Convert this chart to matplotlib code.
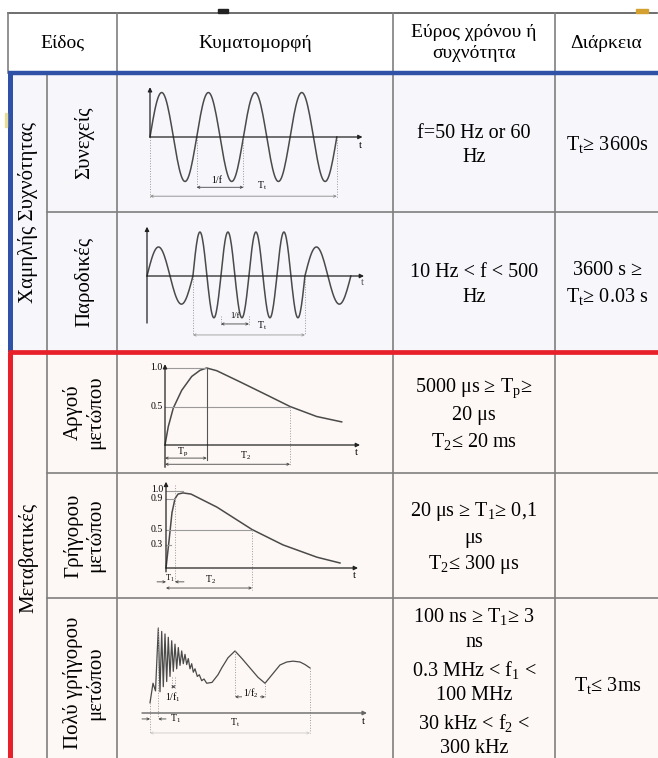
import numpy as np
import matplotlib
matplotlib.use('Agg')
import matplotlib.pyplot as plt
from matplotlib.patches import Rectangle

plt.rcParams['font.family'] = ['Liberation Serif', 'DejaVu Serif']
plt.rcParams['mathtext.fontset'] = 'custom'
plt.rcParams['mathtext.rm'] = 'Liberation Serif'
plt.rcParams['mathtext.it'] = 'Liberation Serif:italic'

W, H = 658, 758

# ---- table text ----
header_labels = ['Είδος', 'Κυματομορφή', 'Εύρος χρόνου ή\nσυχνότητα', 'Διάρκεια']
group_labels = ['Χαμηλής Συχνότητας', 'Μεταβατικές']
subtype_labels = ['Συνεχείς', 'Παροδικές', 'Αργού\nμετώπου', 'Γρήγορου\nμετώπου',
                  'Πολύ γρήγορου\nμετώπου']
range_texts = [
    ['f=50 Hz or 60\nHz'],
    ['10 Hz < f < 500\nHz'],
    ['5000 μs ≥ T$_\\mathrm{p}$≥\n20 μs', 'T$_2$≤ 20 ms'],
    ['20 μs ≥ T$_1$≥ 0,1\nμs', 'T$_2$≤ 300 μs'],
    ['100 ns ≥ T$_1$≥ 3\nns', '0.3 MHz < f$_1$ <\n100 MHz', '30 kHz < f$_2$ <\n300 kHz'],
]
duration_texts = ['T$_\\mathrm{t}$≥ 3600s', '3600 s ≥\nT$_\\mathrm{t}$≥ 0.03 s', '', '',
                  'T$_\\mathrm{t}$≤ 3ms']

# ---- waveform data (read from the sketches) ----
# continuous: time unit = one period 1/f
cont_half_dur = [0.5] * 8
cont_peaks = [1.0, -1.0] * 4
# temporary: time unit = one period of the fast part
paro_half_dur = [0.82, 0.82] + [0.5] * 8 + [0.82, 0.82]
paro_peaks = [0.66, -0.64] + [1.0, -0.95] * 4 + [0.66, -0.64]
# slow front impulse (per unit)
slow_t = [0, 0.33, 0.83, 1.67, 2.67, 3.5, 4.17, 5.17, 7.5, 10.17, 12.5, 15.17, 17.67]
slow_v = [0, 0.24, 0.48, 0.71, 0.89, 0.97, 1.0, 0.965, 0.82, 0.65, 0.5, 0.37, 0.30]
slow_tp, slow_t2 = 4.17, 12.5
# fast front impulse
fast_t = [0, 0.3, 0.6, 0.9, 1.2, 1.7, 2.5, 5.1, 8.6, 11.7, 15.1, 17.4]
fast_v = [0, 0.35, 0.72, 0.9, 0.96, 0.975, 0.96, 0.79, 0.5, 0.30, 0.14, 0.065]
fast_t1, fast_t2 = 0.9, 8.6
# very fast front: ringing then slow oscillation
vfast_t = [0, 0.3, 0.55, 0.83, 1.0, 1.17, 1.33, 1.5, 1.67, 1.83, 2.0, 2.17, 2.33, 2.5,
           2.67, 2.83, 3.0, 3.17, 3.33, 3.5, 3.67, 3.83, 4.0, 4.17, 4.33, 4.5, 4.73,
           4.93, 5.17, 5.4, 5.67, 6.2, 6.8, 7.17, 7.8, 8.5, 9.2, 10.0, 10.8, 11.5,
           12.2, 13.0, 13.67, 14.3, 15.0, 15.5, 16.0]
vfast_v = [0.12, 0.35, 0.26, 1.0, 0.25, 0.96, 0.31, 0.93, 0.37, 0.89, 0.43, 0.85, 0.49,
           0.81, 0.52, 0.77, 0.56, 0.73, 0.58, 0.69, 0.57, 0.64, 0.52, 0.58, 0.48, 0.52,
           0.43, 0.45, 0.38, 0.40, 0.35, 0.36, 0.45, 0.53, 0.65, 0.73, 0.64, 0.53, 0.42,
           0.35, 0.45, 0.565, 0.6, 0.61, 0.6, 0.57, 0.53]
vfast_f1 = (2.17, 2.5)
vfast_f2 = (8.5, 11.5)
vfast_ring_start, vfast_end = 0.83, 16.0

# ---- layout ----
col_x = [8, 47, 117, 393, 555, 658]
row_y = [13, 73, 212, 352, 473, 598, 768]
gray = '#7f7f7f'
fs = 14.5

fig = plt.figure(figsize=(W / 100, H / 100), dpi=100)
ax = fig.add_axes([0, 0, 1, 1])
ax.set_xlim(0, W)
ax.set_ylim(H, 0)
ax.axis('off')

ax.add_patch(Rectangle((0, 0), W, H, color='white', zorder=0))
ax.add_patch(Rectangle((col_x[0], row_y[1]), W, row_y[3] - row_y[1], color='#f6f6fb', zorder=0))
ax.add_patch(Rectangle((col_x[0], row_y[3]), W, H - row_y[3], color='#fdf8f5', zorder=0))

# grid
ax.plot([col_x[0], W - 1], [row_y[0]] * 2, color='#555555', lw=1.2)
ax.plot([col_x[0]] * 2, [row_y[0], row_y[1]], color=gray, lw=1.2)
ax.plot([col_x[1]] * 2, [row_y[1], H], color=gray, lw=1.2)
for x in col_x[2:5]:
    ax.plot([x, x], [row_y[0], H], color=gray, lw=1.2)
for y in [row_y[2], row_y[4], row_y[5]]:
    ax.plot([col_x[1], W], [y, y], color=gray, lw=1.2)

# group borders
ax.plot([col_x[0], W], [row_y[1]] * 2, color='#2f52a6', lw=3.2, solid_capstyle='butt')
ax.plot([col_x[0] + 2] * 2, [row_y[1], row_y[3]], color='#2f52a6', lw=3.6, solid_capstyle='butt')
ax.plot([col_x[0], W], [row_y[3]] * 2, color='#e8202a', lw=3.4, solid_capstyle='butt')
ax.plot([col_x[0] + 2] * 2, [row_y[3], H], color='#e8202a', lw=3.6, solid_capstyle='butt')

# small marks from the source page
ax.add_patch(Rectangle((218, 9), 10, 4, color='#222222', zorder=3))
ax.add_patch(Rectangle((636, 9), 12, 4, color='#d4a030', zorder=3))
ax.add_patch(Rectangle((5, 113), 1.5, 14, color='#e6dd9a', zorder=3))

# header
hy = (row_y[0] + row_y[1]) / 2
ax.text((col_x[0] + col_x[2]) / 2, hy, header_labels[0], ha='center', va='center', fontsize=14)
for i, lab in enumerate(header_labels[1:]):
    ax.text((col_x[i + 2] + col_x[i + 3]) / 2, hy, lab, ha='center', va='center',
            fontsize=14, linespacing=1.25)

# group labels
ax.text(28, (row_y[1] + row_y[3]) / 2, group_labels[0], rotation=90, ha='center',
        va='center', fontsize=15)
ax.text(28, (row_y[3] + H) / 2 + 3, group_labels[1], rotation=90, ha='center',
        va='center', fontsize=15)

line_h, gap = 24, 5
for r in range(5):
    yc = (row_y[r + 1] + row_y[r + 2]) / 2
    ax.text(84, yc, subtype_labels[r], rotation=90, ha='center', va='center',
            fontsize=15, linespacing=1.15)
    paras = range_texts[r]
    nlines = [p.count('\n') + 1 for p in paras]
    total = sum(nlines) * line_h + gap * (len(paras) - 1)
    top = yc - total / 2 + (3 if r < 4 else -1)
    for p, n in zip(paras, nlines):
        ax.text((col_x[3] + col_x[4]) / 2, top + n * line_h / 2, p, ha='center',
                va='center', fontsize=fs, linespacing=1.42)
        top += n * line_h + gap
    if duration_texts[r]:
        ax.text((col_x[4] + col_x[5]) / 2 + 1, yc + 2, duration_texts[r], ha='center',
                va='center', fontsize=fs, linespacing=1.32)


def wave_axes(r, ox, oy, sx, sy):
    x0, x1 = col_x[2] + 2, col_x[3] - 2
    y0, y1 = row_y[r + 1] + 3, row_y[r + 2] - 3
    a = fig.add_axes([x0 / W, 1 - y1 / H, (x1 - x0) / W, (y1 - y0) / H])
    a.set_xlim((x0 - ox) / sx, (x1 - ox) / sx)
    a.set_ylim((oy - y1) / sy, (oy - y0) / sy)
    a.axis('off')
    a.patch.set_alpha(0)
    return a


wc, lc, hc = '#4a4a4a', '#222222', '#9a9a9a'
sfs = 7


def arrow(a, x0, x1, y, style='<->', color='#444444'):
    a.annotate('', xy=(x1, y), xytext=(x0, y),
               arrowprops=dict(arrowstyle=style, lw=0.6, color=color,
                               mutation_scale=4, shrinkA=0, shrinkB=0))


def axes_lines(a, t_end, y_top, y_bot):
    a.annotate('', xy=(t_end, 0), xytext=(0, 0),
               arrowprops=dict(arrowstyle='-|>', lw=0.9, color=lc, mutation_scale=6,
                               shrinkA=0, shrinkB=0))
    a.annotate('', xy=(0, y_top), xytext=(0, y_bot),
               arrowprops=dict(arrowstyle='-|>', lw=0.9, color=lc, mutation_scale=6,
                               shrinkA=0, shrinkB=0))


def lobes(durs, peaks):
    ts, vs, t0 = [], [], 0.0
    for d, p in zip(durs, peaks):
        s = np.linspace(0, 1, 25)
        ts.append(t0 + s * d)
        vs.append(p * np.sin(np.pi * s))
        t0 += d
    return np.concatenate(ts), np.concatenate(vs)


# row 1: continuous
a = wave_axes(0, 150, 137, 46.7, 44.5)
t, v = lobes(cont_half_dur, cont_peaks)
a.plot(t, v, color=wc, lw=1.1)
axes_lines(a, 4.55, 1.12, 0)
t_end = sum(cont_half_dur)
a.plot([0, 0], [0, -1.37], color=hc, lw=0.7, ls=':')
a.plot([t_end, t_end], [0, -1.37], color=hc, lw=0.7, ls=':')
for k in (1, 2):
    a.plot([k, k], [0, -1.15], color=hc, lw=0.7, ls=':')
arrow(a, 1, 2, -1.13)
a.text(1.43, -0.97, '1/f', fontsize=sfs, ha='center', va='center')
arrow(a, 0, t_end, -1.33, color='#888888')
a.text(2.4, -1.1, 'T$_\\mathrm{t}$', fontsize=sfs, ha='center', va='center')
a.text(4.5, -0.2, 't', fontsize=8, ha='center', va='center')

# row 2: temporary
a = wave_axes(1, 147, 276, 28, 44)
t, v = lobes(paro_half_dur, paro_peaks)
a.plot(t, v, color=wc, lw=1.1)
axes_lines(a, 7.75, 1.12, -1.07)
edges = np.cumsum(paro_half_dur)
z1, z2, z3, z4 = edges[1], edges[3], edges[5], edges[9]
a.plot([z1, z1], [0, -1.34], color=hc, lw=0.7, ls=':')
a.plot([z4, z4], [0, -1.34], color=hc, lw=0.7, ls=':')
for z in (z2, z3):
    a.plot([z, z], [-0.9, -1.12], color=hc, lw=0.7, ls=':')
arrow(a, z2, z3, -1.09)
a.text((z2 + z3) / 2, -0.91, '1/f', fontsize=sfs - 1, ha='center', va='center')
arrow(a, z1, z4, -1.34, color='#999999')
a.text(4.1, -1.12, 'T$_\\mathrm{t}$', fontsize=sfs, ha='center', va='center')
a.text(7.7, -0.14, 't', fontsize=8, ha='center', va='center', color='#555555')

# row 3: slow front
a = wave_axes(2, 165, 445, 10, 77)
a.plot(slow_t, slow_v, color=wc, lw=1.1)
axes_lines(a, 19.5, 1.05, -0.29)
a.plot([0, slow_tp], [1, 1], color=hc, lw=0.8)
a.plot([0, slow_t2], [0.5, 0.5], color=hc, lw=0.8)
a.plot([slow_tp, slow_tp], [1, -0.2], color='#555555', lw=0.8)
a.plot([slow_t2, slow_t2], [0.5, -0.27], color=hc, lw=0.7, ls=':')
arrow(a, 0, slow_tp, -0.17)
arrow(a, 0, slow_t2, -0.25)
a.text(1.8, -0.1, 'T$_\\mathrm{p}$', fontsize=sfs, ha='center', va='center')
a.text(8.0, -0.145, 'T$_2$', fontsize=sfs, ha='center', va='center')
for val, lab in [(1.0, '1.0'), (0.5, '0.5')]:
    a.text(-0.25, val, lab, fontsize=sfs, ha='right', va='center')
a.text(19.1, -0.1, 't', fontsize=8, ha='center', va='center')

# row 4: fast front
a = wave_axes(3, 166, 568, 10, 77)
a.plot(fast_t, fast_v, color=wc, lw=1.1)
axes_lines(a, 19.2, 1.12, -0.05)
a.plot([0, 1.7], [1, 1], color=hc, lw=0.8)
a.plot([0, fast_t1], [0.9, 0.9], color=hc, lw=0.8)
a.plot([0, fast_t2], [0.5, 0.5], color=hc, lw=0.8)
a.plot([0, 0.5], [0.3, 0.3], color=hc, lw=0.8)
a.plot([fast_t1, fast_t1], [1.08, -0.2], color=hc, lw=0.7, ls=':')
a.plot([fast_t2, fast_t2], [0.5, -0.28], color=hc, lw=0.7, ls=':')
arrow(a, -0.9, 0, -0.18, style='->')
arrow(a, 1.8, fast_t1, -0.18, style='->')
a.text(0.35, -0.13, 'T$_1$', fontsize=sfs - 1, ha='center', va='center')
arrow(a, 0, fast_t2, -0.26)
a.text(4.4, -0.15, 'T$_2$', fontsize=sfs, ha='center', va='center')
for val, lab in [(1.02, '1.0'), (0.9, '0.9'), (0.5, '0.5'), (0.3, '0.3')]:
    a.text(-0.3, val, lab, fontsize=sfs, ha='right', va='center')
a.text(18.8, -0.1, 't', fontsize=8, ha='center', va='center')

# row 5: very fast front
a = wave_axes(4, 150, 713, 10, 85)
a.plot(vfast_t, vfast_v, color=wc, lw=0.9)
a.annotate('', xy=(21.7, 0), xytext=(-0.8, 0),
           arrowprops=dict(arrowstyle='-|>', lw=1.0, color='#666666', mutation_scale=6,
                           shrinkA=0, shrinkB=0))
a.plot([0, 0], [vfast_v[0], -0.24], color=hc, lw=0.7, ls=':')
a.plot([vfast_ring_start] * 2, [1.0, -0.06], color=hc, lw=0.7, ls=':')
a.plot([vfast_end] * 2, [vfast_v[-1], -0.24], color=hc, lw=0.7, ls=':')
for tt in vfast_f1:
    a.plot([tt, tt], [0.42, 0.3], color=hc, lw=0.7, ls=':')
arrow(a, vfast_f1[0], vfast_f1[1], 0.31)
a.text(2.3, 0.19, '1/f$_1$', fontsize=sfs, ha='center', va='center')
a.plot([vfast_f2[0]] * 2, [0.73, 0.19], color=hc, lw=0.7, ls=':')
a.plot([vfast_f2[1]] * 2, [0.35, 0.19], color=hc, lw=0.7, ls=':')
arrow(a, vfast_f2[0], vfast_f2[1], 0.19)
a.text(10.1, 0.23, '1/f$_2$', fontsize=sfs, ha='center', va='center',
       bbox=dict(facecolor='#fdf8f5', edgecolor='none', pad=0.5))
arrow(a, -0.8, 0, -0.07, style='->')
arrow(a, 1.6, vfast_ring_start, -0.07, style='->')
a.text(2.0, -0.07, 'T$_1$', fontsize=sfs, ha='left', va='center')
arrow(a, 0, vfast_end, -0.235, color='#cccccc')
a.text(8.5, -0.12, 'T$_\\mathrm{t}$', fontsize=sfs, ha='center', va='center')
a.text(21.3, -0.1, 't', fontsize=8, ha='center', va='center')

fig.savefig('out.png', dpi=100)
